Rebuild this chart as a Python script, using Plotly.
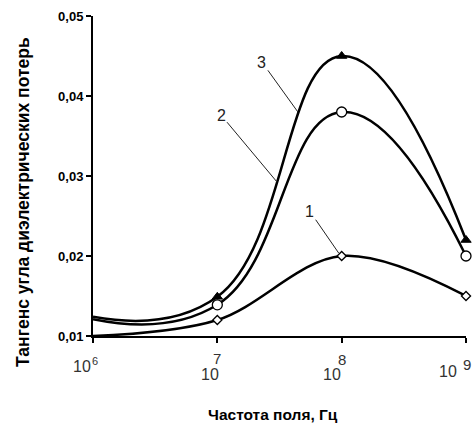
import plotly.graph_objects as go

freq = [1e6, 1e7, 1e8, 1e9]
s1 = [0.010, 0.012, 0.020, 0.015]
s2 = [0.0121, 0.0139, 0.038, 0.020]
s3 = [0.0124, 0.0149, 0.045, 0.022]
y_ticks = [0.01, 0.02, 0.03, 0.04, 0.05]
y_tick_text = ["0,01", "0,02", "0,03", "0,04", "0,05"]
x_exps = ["6", "7", "8", "9"]
series_labels = ["1", "2", "3"]
x_title = "Частота поля, Гц"
y_title = "Тангенс угла диэлектрических потерь"

FONT = "Liberation Sans, Arial"
NUMFONT = "Liberation Sans, Arial"

fig = go.Figure()
def ln(sm):
    return dict(color="black", width=2.5, shape="spline", smoothing=sm)

fig.add_trace(go.Scatter(x=freq, y=s1, mode="lines+markers", line=ln(1.0),
                         marker=dict(symbol="diamond", size=7, color="white",
                                     line=dict(color="black", width=1.3)),
                         cliponaxis=False))
fig.add_trace(go.Scatter(x=freq, y=s2, mode="lines+markers", line=ln(1.3),
                         marker=dict(symbol="circle", size=10, color="white",
                                     line=dict(color="black", width=1.3)),
                         cliponaxis=False))
fig.add_trace(go.Scatter(x=freq, y=s3, mode="lines+markers", line=ln(1.3),
                         marker=dict(symbol="triangle-up", size=9, color="black",
                                     line=dict(color="black", width=1)),
                         cliponaxis=False))

# x tick labels: "10" with exponent, placed as in the original
base_shift = [(-11.5, -30), (-7, -38.5), (-10, -38), (-18, -35.5)]
exp_shift = [(1.5, -25), (0, -22.5), (0, -23), (1, -28)]
exp_size = [11, 15, 15, 15]
for i, e in enumerate(x_exps):
    lx = i + 6
    fig.add_annotation(x=lx, y=0, xref="x", yref="paper", text="10", showarrow=False,
                       xanchor="center", yanchor="middle",
                       xshift=base_shift[i][0], yshift=base_shift[i][1],
                       font=dict(family=NUMFONT, size=16, color="#333"))
    fig.add_annotation(x=lx, y=0, xref="x", yref="paper", text=e, showarrow=False,
                       xanchor="center", yanchor="middle",
                       xshift=exp_shift[i][0], yshift=exp_shift[i][1],
                       font=dict(family=NUMFONT, size=exp_size[i], color="#333"))

# curve labels with leader lines
lab_font = dict(family=NUMFONT, size=16, color="#222")
fig.add_annotation(x=7.648, y=0.0380, text=series_labels[2], showarrow=True, arrowhead=0,
                   arrowwidth=1, arrowcolor="#222", ax=-36, ay=-50, font=lab_font)
fig.add_annotation(x=7.48, y=0.02925, text=series_labels[1], showarrow=True, arrowhead=0,
                   arrowwidth=1, arrowcolor="#222", ax=-56, ay=-67, font=lab_font)
fig.add_annotation(x=7.976, y=0.02037, text=series_labels[0], showarrow=True, arrowhead=0,
                   arrowwidth=1, arrowcolor="#222", ax=-29, ay=-42, font=lab_font)

# axis titles
fig.add_annotation(x=0.483, y=-0.244, xref="paper", yref="paper",
                   text="<b>" + x_title + "</b>", showarrow=False,
                   xanchor="center", yanchor="middle",
                   font=dict(family=FONT, size=15.5, color="black"))
fig.add_annotation(x=0, y=0.419, xref="paper", yref="paper",
                   text="<b>" + y_title + "</b>", showarrow=False, textangle=-90,
                   xanchor="center", yanchor="middle", xshift=-70,
                   font=dict(family=FONT, size=17.5, color="black"))

fig.update_layout(
    width=472, height=427,
    margin=dict(l=93, r=6, t=16, b=91),
    paper_bgcolor="white", plot_bgcolor="white",
    showlegend=False,
    font=dict(family=FONT, color="black"),
    xaxis=dict(type="log", range=[6, 9], showgrid=False, zeroline=False,
               automargin=False,
               showline=True, linecolor="black", linewidth=2,
               ticks="outside", ticklen=5, tickwidth=2, tickcolor="black",
               tickvals=freq, showticklabels=False),
    yaxis=dict(range=[0.01, 0.05], showgrid=False, zeroline=False,
               automargin=False,
               showline=True, linecolor="black", linewidth=2,
               ticks="outside", ticklen=5, tickwidth=2, tickcolor="black",
               tickvals=y_ticks, ticktext=["<b>" + t + "</b>" for t in y_tick_text],
               tickfont=dict(size=13, family=FONT)),
)

fig.write_html("out.html", config={"displayModeBar": False},
               post_script="document.body.style.margin='0';document.body.style.overflow='hidden';")
